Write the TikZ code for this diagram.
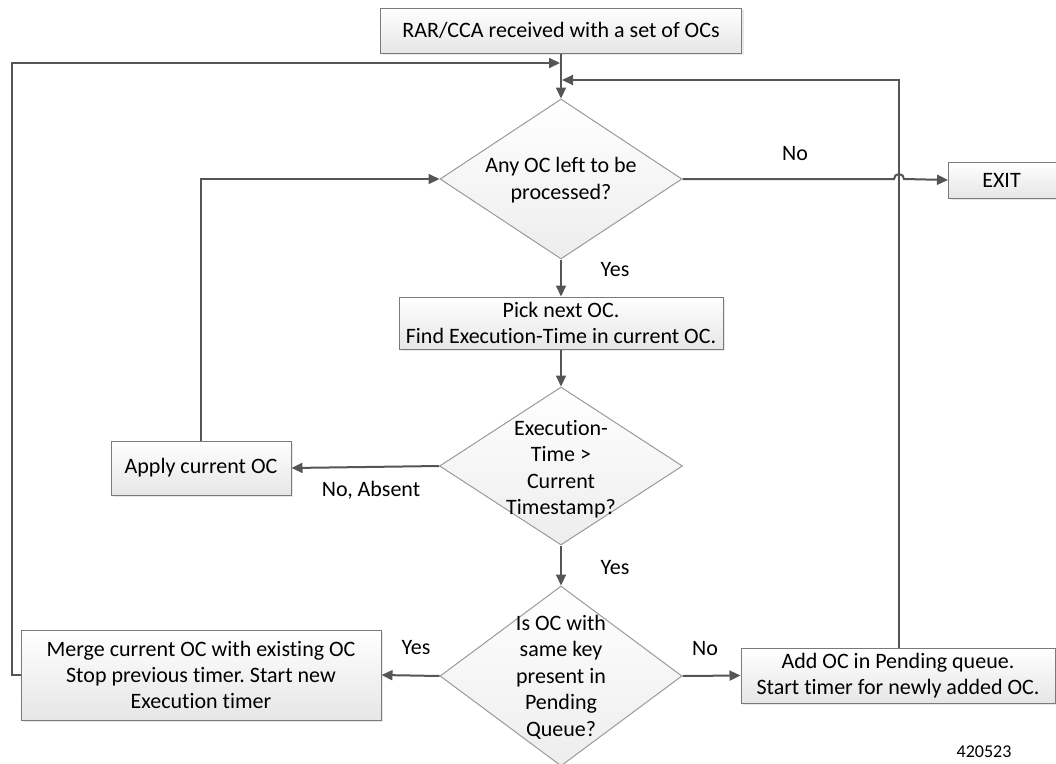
\documentclass[tikz,border=0pt]{standalone}
\usepackage{fontspec}
\setmainfont{Carlito}[Ligatures=NoCommon]
\usetikzlibrary{shapes.geometric,arrows.meta,shadows}
\definecolor{linegray}{HTML}{555555}
\definecolor{boxborder}{HTML}{7A7A7A}
\definecolor{dborder}{HTML}{9A9A9A}
\definecolor{fillbot}{HTML}{E6E6E6}
\definecolor{dfillbot}{HTML}{EDEDED}
\tikzset{
  procbox/.style={rectangle, draw=boxborder, line width=1pt, top color=white, bottom color=fillbot,
    drop shadow={opacity=0.18, shadow xshift=2pt, shadow yshift=-2pt},
    inner sep=0pt, align=center, font=\fontsize{22}{26}\selectfont},
  decision/.style={diamond, draw=dborder, line width=1pt, top color=white, bottom color=dfillbot,
    inner sep=0pt, aspect=1},
  dtext/.style={align=center, font=\fontsize{22}{26.5}\selectfont, inner sep=0pt},
  conn/.style={draw=linegray, line width=2pt},
  arr/.style={conn, -{Triangle[length=11pt,width=10pt]}},
  lbl/.style={font=\fontsize{22}{24}\selectfont, text=black, inner sep=0pt},
}
\begin{document}
\frenchspacing
\begin{tikzpicture}[x=1pt,y=-1pt]
\useasboundingbox (0,0) rectangle (1056,763);
% nodes
\node[procbox, minimum width=361pt, minimum height=45pt] (top) at (561,30.5) {RAR/CCA received with a set of OCs};
\node[decision, minimum width=242pt, minimum height=160pt,
  label={[dtext, yshift=-1pt]center:Any OC left to be\\processed?}] (d1) at (561,179) {};
\node[procbox, minimum width=108pt, minimum height=36pt, anchor=west] (exit) at (948,180) {\hspace*{-2pt}EXIT};
\node[procbox, minimum width=324pt, minimum height=52pt] (pick) at (561,323) {Pick next OC.\\Find Execution-Time in current OC.};
\node[decision, minimum width=243pt, minimum height=158pt,
  label={[dtext, yshift=-3pt]center:Execution-\\Time >\\Current\\Timestamp?}] (d2) at (561,466) {};
\node[procbox, minimum width=180pt, minimum height=54pt] (apply) at (201,468) {Apply current OC};
\node[decision, minimum width=242pt, minimum height=180pt,
  label={[dtext, yshift=-1pt]center:Is OC with\\same key\\present in\\Pending\\Queue?}] (d3) at (561,676) {};
\node[procbox, minimum width=360pt, minimum height=90pt] (merge) at (201,675) {Merge current OC with existing OC\\Stop previous timer. Start new\\Execution timer};
\node[procbox, minimum width=314pt, minimum height=55pt] (add) at (898,675.5) {Add OC in Pending queue.\\Start timer for newly added OC.};
% helper coordinates
\coordinate (lc1) at (12,675);
\coordinate (lc2) at (12,63);
\coordinate (lin) at (560,63);
\coordinate (rc1) at (899,80);
\coordinate (rin) at (562,80);
\coordinate (ac1) at (201,179);
\coordinate (hop1) at (894,179);
\coordinate (hop2) at (904,179);
% connectors
\draw[arr] (top.south) -- (d1.north);
\draw[arr] (merge.west) -- (lc1) -- (lc2) -- (lin);
\draw[arr] (add.north -| rc1) -- (rc1) -- (rin);
\draw[arr] (d1.east) -- (hop1) arc (180:360:5) -- (hop2) -- (exit.west);
\draw[arr] (apply.north) -- (ac1) -- (d1.west);
\draw[arr] (d1.south) -- (pick.north);
\draw[arr] (pick.south) -- (d2.north);
\draw[arr] (d2.west) -- (apply.east);
\draw[arr] (d2.south) -- (d3.north);
\draw[arr] (d3.west) -- (merge.east);
\draw[arr] (d3.east) -- (add.west);
% labels
\node[lbl] (lno1) at (795,154) {No};
\node[lbl] (lyes1) at (615,270) {Yes};
\node[lbl] (lnoabs) at (371,490) {No, Absent};
\node[lbl] (lyes2) at (615,568) {Yes};
\node[lbl] (lyes3) at (416,648) {Yes};
\node[lbl] (lno3) at (705,649) {No};
\node[font=\fontsize{18}{20}\selectfont, inner sep=0pt] (fig) at (984,752) {420523};
\end{tikzpicture}
\end{document}
